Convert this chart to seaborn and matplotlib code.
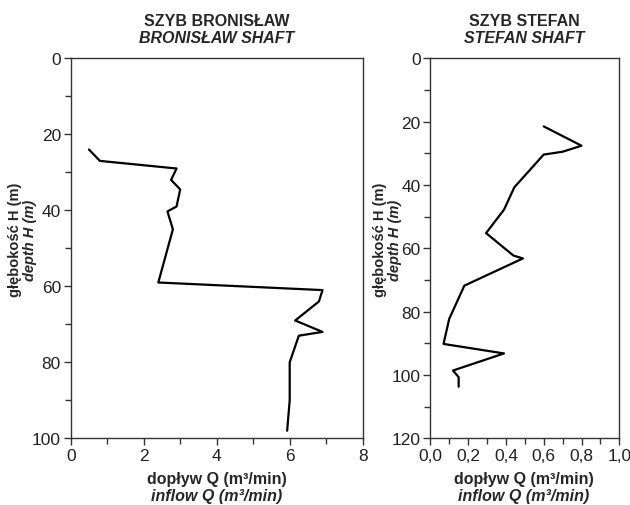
import matplotlib
matplotlib.use("Agg")
import matplotlib.pyplot as plt
import seaborn as sns
import pandas as pd
from matplotlib.ticker import MultipleLocator, FuncFormatter

# Bronisław shaft: inflow Q (m3/min) vs depth H (m)
bron_q = [0.5, 0.8, 2.9, 2.75, 3.0, 2.9, 2.65, 2.8, 2.4, 6.9, 6.8, 6.15, 6.9, 6.25, 6.0, 6.0, 5.93]
bron_h = [24, 27, 29, 32, 34.5, 39, 40.3, 45, 59, 61, 64, 69, 72, 73, 80, 90, 98]

# Stefan shaft
stef_q = [0.6, 0.8, 0.7, 0.6, 0.445, 0.39, 0.295, 0.44, 0.49, 0.18, 0.1, 0.07, 0.39, 0.12, 0.15, 0.15]
stef_h = [21.5, 27.6, 29.5, 30.4, 40.7, 47.8, 55.2, 62.3, 63.2, 71.8, 82.3, 90.2, 93.2, 98.6, 100.7, 103.7]

sns.set_style("ticks")
plt.rcParams['font.family'] = ['Liberation Sans Narrow', 'Liberation Sans', 'DejaVu Sans']
plt.rcParams['axes.edgecolor'] = '#333333'
plt.rcParams['xtick.color'] = '#333333'
plt.rcParams['ytick.color'] = '#333333'
plt.rcParams['xtick.labelcolor'] = '#222222'
plt.rcParams['ytick.labelcolor'] = '#222222'

W, H = 630, 506
fig = plt.figure(figsize=(6.3, 5.06), dpi=100)

def px_axes(x0, x1, y0, y1):
    return fig.add_axes([x0 / W, 1 - y1 / H, (x1 - x0) / W, (y1 - y0) / H])

ax1 = px_axes(70.7, 362.7, 59.3, 439.3)
ax2 = px_axes(430.3, 619.3, 59.3, 439.3)

df1 = pd.DataFrame({"Q": bron_q, "H": bron_h})
df2 = pd.DataFrame({"Q": stef_q, "H": stef_h})

sns.lineplot(data=df1, x="Q", y="H", sort=False, estimator=None,
             color="black", linewidth=1.6, ax=ax1)
sns.lineplot(data=df2, x="Q", y="H", sort=False, estimator=None,
             color="black", linewidth=1.6, ax=ax2)

ax1.set_xlim(0, 8)
ax1.set_ylim(100, 0)
ax1.xaxis.set_major_locator(MultipleLocator(2))
ax1.xaxis.set_minor_locator(MultipleLocator(1))
ax1.yaxis.set_major_locator(MultipleLocator(20))
ax1.yaxis.set_minor_locator(MultipleLocator(10))

ax2.set_xlim(0, 1.0)
ax2.set_ylim(120, 0)
ax2.xaxis.set_major_locator(MultipleLocator(0.2))
ax2.xaxis.set_minor_locator(MultipleLocator(0.1))
ax2.yaxis.set_major_locator(MultipleLocator(20))
ax2.yaxis.set_minor_locator(MultipleLocator(10))
ax2.xaxis.set_major_formatter(FuncFormatter(lambda v, p: f"{v:.1f}".replace(".", ",")))

for ax in (ax1, ax2):
    ax.set_xlabel("")
    ax.set_ylabel("")
    ax.tick_params(which="major", direction="out", length=5, width=1, labelsize=12.5, pad=2)
    ax.tick_params(which="minor", direction="out", length=4, width=1)
    for s in ax.spines.values():
        s.set_linewidth(1)

def ftext(x, y, s, **kw):
    fig.text(x / W, 1 - y / H, s, ha="center", va="center", **kw)

# titles
ftext(217, 21, "SZYB BRONISŁAW", fontsize=11.5, fontweight="bold")
ftext(217, 38.5, "BRONISŁAW SHAFT", fontsize=11.5, fontweight="bold", style="italic")
ftext(524, 21, "SZYB STEFAN", fontsize=11.5, fontweight="bold")
ftext(524, 38.5, "STEFAN SHAFT", fontsize=11.5, fontweight="bold", style="italic")

# x labels
for cx in (217, 524):
    ftext(cx, 480, "dopływ Q (m³/min)", fontsize=11.5, fontweight="bold")
    ftext(cx, 497, "inflow Q (m³/min)", fontsize=11.5, fontweight="bold", style="italic")

# y labels
for lx in (15, 380):
    ftext(lx, 240, "głębokość H (m)", fontsize=10.5, fontweight="bold", rotation=90)
    ftext(lx + 15, 240, "depth H (m)", fontsize=10.5, fontweight="bold", style="italic", rotation=90)

fig.savefig("out.png", dpi=100)
